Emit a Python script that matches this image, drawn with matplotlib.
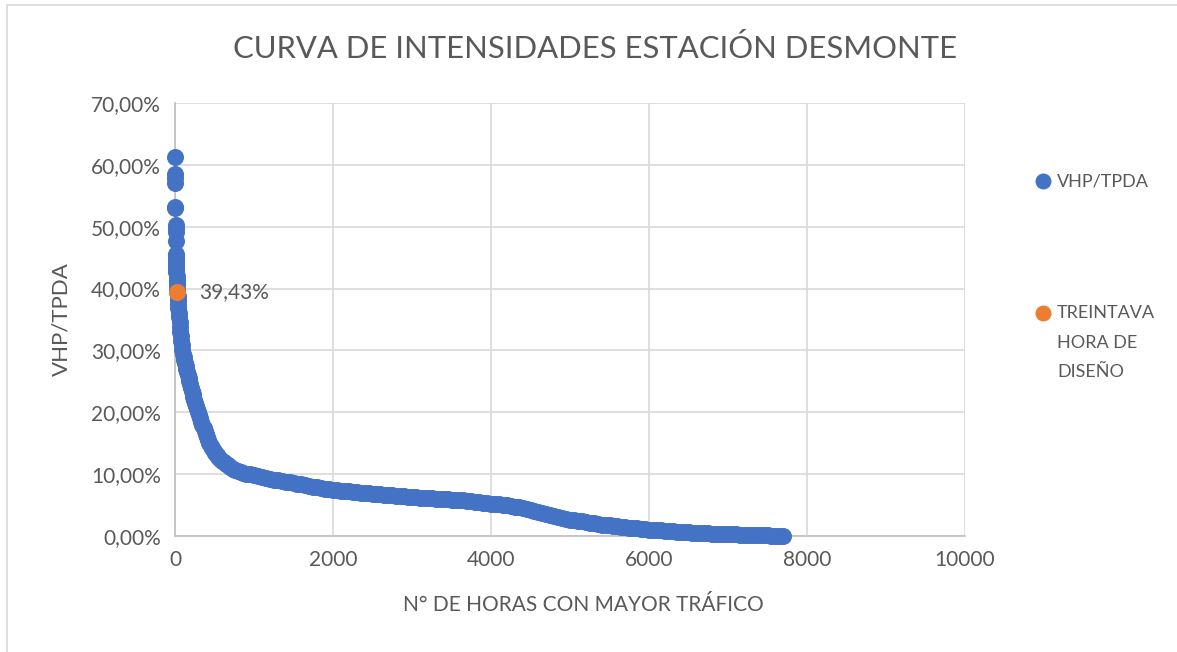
import matplotlib.pyplot as plt
from matplotlib.lines import Line2D
from matplotlib.patches import Rectangle
from matplotlib.ticker import FuncFormatter, MultipleLocator

plt.rcParams['font.family'] = ['Lato', 'DejaVu Sans']

# hours ranked by traffic, VHP/TPDA in percent
horas = [1, 2, 3, 4, 5, 6, 7, 8, 9, 10,
         11, 12, 13, 14, 15, 16, 18, 20, 22, 24, 26, 28, 30,
         33, 36, 40, 44, 48, 52, 57, 62, 67, 72, 78, 84, 90,
         99, 108, 117, 126, 135, 144, 153, 162, 171, 180,
         190, 201, 211, 222, 232, 243, 253, 264, 274, 285,
         300, 316, 332, 348, 363, 378, 393, 407, 421, 436, 450,
         470, 490, 510, 530, 550, 570, 595, 620, 645, 670, 700, 730,
         760, 795, 830, 865, 900, 950, 1000, 1050, 1100, 1150,
         1200, 1250, 1300, 1350, 1400, 1450, 1500, 1550, 1600, 1650,
         1700, 1750, 1800, 1850, 1900, 1950, 2000, 2050, 2100, 2150,
         2200, 2250, 2300, 2350, 2400, 2450, 2500, 2550, 2600, 2650,
         2700, 2750, 2800, 2850, 2900, 2950, 3000, 3050, 3100, 3150,
         3200, 3250, 3300, 3350, 3400, 3450, 3500, 3550, 3600, 3650,
         3700, 3750, 3800, 3850, 3900, 3950, 4000, 4050, 4100, 4150,
         4200, 4250, 4300, 4350, 4400, 4450, 4500, 4550, 4600, 4650,
         4700, 4750, 4800, 4850, 4900, 4950, 5000, 5050, 5100, 5150,
         5200, 5250, 5300, 5350, 5400, 5450, 5500, 5550, 5600, 5650,
         5700, 5750, 5800, 5850, 5900, 5950, 6000, 6050, 6100, 6150,
         6200, 6250, 6300, 6350, 6400, 6450, 6500, 6550, 6600, 6650,
         6700, 6750, 6800, 6850, 6900, 6950, 7000, 7050, 7100, 7150,
         7200, 7250, 7300, 7350, 7400, 7450, 7500, 7550, 7600, 7650, 7690]
vhp_tpda = [61.3, 58.5, 57.9, 57.1, 53.2, 53.0, 50.3, 49.8, 49.1, 47.7,
            45.6, 45.1, 44.6, 44.1, 43.6, 43.1, 42.6, 42.1, 41.6, 41.0, 40.5, 40.0, 39.43,
            38.8, 38.2, 37.5, 36.8, 36.1, 35.4, 34.6, 33.8, 33.0, 32.3, 31.5, 30.8, 30.0,
            29.5, 29.0, 28.5, 28.0, 27.5, 27.0, 26.5, 26.0, 25.5, 25.0,
            24.5, 24.0, 23.5, 23.0, 22.5, 22.0, 21.5, 21.0, 20.5, 20.0,
            19.5, 19.0, 18.5, 18.0, 17.5, 17.0, 16.5, 16.0, 15.5, 15.0, 14.6,
            14.2, 13.8, 13.4, 13.1, 12.8, 12.5, 12.2, 11.9, 11.6, 11.4, 11.1, 10.9,
            10.7, 10.5, 10.35, 10.2, 10.1, 9.95, 9.8, 9.7, 9.55, 9.4,
            9.25, 9.12, 9.0, 8.9, 8.8, 8.7, 8.6, 8.47, 8.35, 8.22,
            8.1, 8.0, 7.9, 7.77, 7.65, 7.55, 7.45, 7.38, 7.3, 7.25,
            7.2, 7.12, 7.05, 7.0, 6.95, 6.9, 6.85, 6.8, 6.75, 6.68,
            6.6, 6.55, 6.5, 6.45, 6.4, 6.35, 6.3, 6.25, 6.2, 6.17,
            6.15, 6.1, 6.05, 6.02, 6.0, 5.95, 5.9, 5.85, 5.8, 5.75,
            5.7, 5.62, 5.55, 5.47, 5.4, 5.32, 5.25, 5.17, 5.1, 5.02,
            4.95, 4.85, 4.75, 4.62, 4.5, 4.38, 4.25, 4.1, 3.95, 3.78,
            3.6, 3.42, 3.25, 3.07, 2.9, 2.77, 2.65, 2.55, 2.45, 2.35,
            2.25, 2.15, 2.05, 1.95, 1.85, 1.77, 1.7, 1.62, 1.55, 1.47,
            1.4, 1.35, 1.3, 1.22, 1.15, 1.1, 1.05, 1.0, 0.95, 0.9,
            0.85, 0.8, 0.75, 0.72, 0.7, 0.65, 0.6, 0.56, 0.52, 0.48,
            0.45, 0.42, 0.4, 0.37, 0.35, 0.32, 0.3, 0.27, 0.25, 0.22,
            0.2, 0.18, 0.17, 0.15, 0.13, 0.11, 0.1, 0.08, 0.06, 0.04, 0.02]

hora_diseno = [30]
valor_diseno = [39.43]

azul = '#4472C4'
naranja = '#ED7D31'
gris = '#595959'

fig = plt.figure(figsize=(11.77, 6.52), dpi=100)
ax = fig.add_axes([175 / 1177, 1 - 536 / 652, 790 / 1177, 433 / 652])

# markers are not clipped at the axes edge, as in the original chart
ax.scatter(horas, vhp_tpda, s=150, color=azul, linewidths=0, zorder=3, clip_on=False)
ax.scatter(hora_diseno, valor_diseno, s=150, color=naranja, linewidths=0, zorder=4,
           clip_on=False)
for h, v in zip(hora_diseno, valor_diseno):
    ax.annotate(f'{v:.2f}%'.replace('.', ','), (h, v), xytext=(16, 0),
                textcoords='offset points', va='center', ha='left',
                fontsize=15, color=gris)

ax.set_xlim(0, 10000)
ax.set_ylim(0, 70)
ax.xaxis.set_major_locator(MultipleLocator(2000))
ax.yaxis.set_major_locator(MultipleLocator(10))
ax.yaxis.set_major_formatter(FuncFormatter(lambda v, p: f'{v:.2f}%'.replace('.', ',')))
ax.grid(True, color='#D9D9D9', linewidth=1.2, zorder=0)
ax.set_axisbelow(True)
for side in ['top', 'right']:
    ax.spines[side].set_visible(False)
for side in ['left', 'bottom']:
    ax.spines[side].set_color('#BFBFBF')
    ax.spines[side].set_linewidth(1.2)
ax.tick_params(length=0, labelsize=15, colors=gris, pad=10)

ax.set_xlabel('N° DE HORAS CON MAYOR TRÁFICO', fontsize=15, color=gris)
ax.xaxis.set_label_coords((583 - 175) / 790, -(595 - 536) / 433)
ax.set_ylabel('VHP/TPDA', fontsize=16, color=gris, labelpad=14)
fig.text(595 / 1177, 1 - 48 / 652, 'CURVA DE INTENSIDADES ESTACIÓN DESMONTE',
         ha='center', va='center', fontsize=22.3, color=gris)

# legend drawn by hand so the marker sits on the first line of text
fig.add_artist(Line2D([1043 / 1177], [1 - 181 / 652], marker='o', markersize=11.5,
                      color=azul, markeredgewidth=0, transform=fig.transFigure))
fig.text(1057 / 1177, 1 - 181 / 652, 'VHP/TPDA', ha='left', va='center',
         fontsize=13, color=gris)
fig.add_artist(Line2D([1043 / 1177], [1 - 313 / 652], marker='o', markersize=11.5,
                      color=naranja, markeredgewidth=0, transform=fig.transFigure))
for linea, y in zip(['TREINTAVA', 'HORA DE', 'DISEÑO'], [313, 343, 372]):
    fig.text(1057 / 1177, 1 - y / 652, linea, ha='left', va='center',
             fontsize=13, color=gris)

fig.add_artist(Rectangle((7 / 1177, -0.1), 1.2, 1 - 5 / 652 + 0.1, transform=fig.transFigure,
                         fill=False, edgecolor='#D9D9D9', linewidth=1.2))

fig.savefig('out.png', dpi=100)
